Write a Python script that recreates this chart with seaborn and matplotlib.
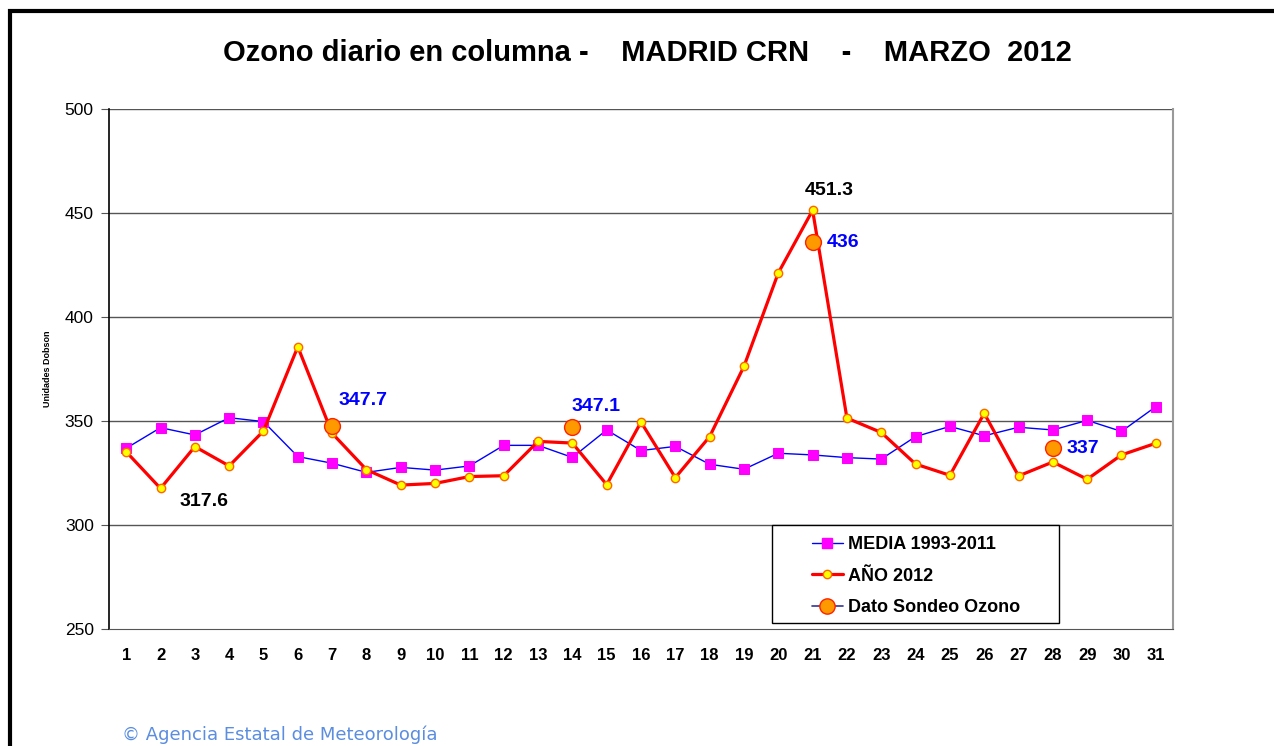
"""Ozono diario en columna - Madrid, marzo 2012."""

import matplotlib

matplotlib.use("Agg")
import matplotlib.pyplot as plt
from matplotlib.lines import Line2D
from matplotlib.patches import Rectangle
import pandas as pd
import seaborn as sns

days = list(range(1, 32))
media_1993_2011 = [336.9, 346.8, 343.3, 351.6, 349.7, 332.9, 329.7, 325.3, 327.7, 326.4,
                   328.4, 338.3, 338.3, 332.5, 345.7, 335.8, 337.8, 329.2, 326.8, 334.5,
                   333.7, 332.4, 331.7, 342.5, 347.4, 342.9, 347.0, 345.7, 350.3, 345.0,
                   356.9]
ano_2012 = [335.2, 317.6, 337.7, 328.4, 345.2, 385.7, 344.1, 326.6, 319.2, 320.0,
            323.3, 323.7, 340.2, 339.4, 319.4, 349.5, 322.8, 342.5, 376.3, 421.2,
            451.3, 351.4, 344.5, 329.3, 323.9, 353.7, 323.6, 330.3, 322.0, 333.7,
            339.3]
sondeo_days = [7, 14, 21, 28]
sondeo_values = [347.7, 347.1, 436.0, 337.0]
sondeo_labels = ["347.7", "347.1", "436", "337"]
y_ticks = [250, 300, 350, 400, 450, 500]

df = pd.DataFrame({"dia": days, "media": media_1993_2011, "ano": ano_2012})
df_sondeo = pd.DataFrame({"dia": sondeo_days, "valor": sondeo_values})

sns.set_style("white")
plt.rcParams["font.family"] = ["Liberation Sans", "DejaVu Sans"]
plt.rcParams["text.color"] = "black"
plt.rcParams["axes.labelcolor"] = "black"
plt.rcParams["xtick.color"] = "black"
plt.rcParams["ytick.color"] = "black"

fig = plt.figure(figsize=(12.74, 7.46), dpi=100)
ax = fig.add_axes([0.0856, 0.1568, 0.8351, 0.6971])

# outer frame of the picture (top and left only visible)
fig.patches.append(Rectangle((10 / 1274, -0.05), 1.1, 1 - 11.5 / 746 + 0.05,
                             transform=fig.transFigure, fill=False,
                             edgecolor="black", linewidth=3, zorder=0))

for v in y_ticks[1:]:
    ax.axhline(v, color="#555555", linewidth=1, zorder=0)

sns.lineplot(data=df, x="dia", y="media", ax=ax, color="#0000FF", linewidth=1,
             marker="s", markersize=7, markerfacecolor="#FF00FF",
             markeredgecolor="#FF00FF", zorder=3)
sns.lineplot(data=df, x="dia", y="ano", ax=ax, color="#FF0000", linewidth=2.3,
             marker="o", markersize=6, markerfacecolor="#FFFF00",
             markeredgecolor="#FF6600", markeredgewidth=1, zorder=4)
sns.scatterplot(data=df_sondeo, x="dia", y="valor", ax=ax, s=130,
                color="#FF9900", edgecolor="#FF2200", linewidth=1, zorder=5)

# value labels
min_i = ano_2012.index(min(ano_2012))
max_i = ano_2012.index(max(ano_2012))
bold = dict(fontsize=14, fontweight="bold")
ax.annotate(f"{ano_2012[min_i]:.1f}", (days[min_i], ano_2012[min_i]),
            xytext=(43, -13), textcoords="offset pixels", ha="center", va="center",
            color="black", **bold)
ax.annotate(f"{ano_2012[max_i]:.1f}", (days[max_i], ano_2012[max_i]),
            xytext=(17, 20), textcoords="offset pixels", ha="center", va="center",
            color="black", **bold)
sondeo_offsets = [(31, 25), (24, 21), (14, 0), (14, 0)]
sondeo_ha = ["center", "center", "left", "left"]
for d, v, lab, off, ha in zip(sondeo_days, sondeo_values, sondeo_labels,
                              sondeo_offsets, sondeo_ha):
    ax.annotate(lab, (d, v), xytext=off, textcoords="offset pixels",
                ha=ha, va="center", color="#0000FF", **bold)

ax.set_xlim(0.5, 31.5)
ax.set_ylim(250, 500)
ax.set_xticks(days)
ax.set_xticklabels([str(d) for d in days], fontsize=12, fontweight="bold")
ax.set_xticks([d - 0.5 for d in days] + [31.5], minor=True)
ax.tick_params(axis="x", which="major", length=0, pad=14)
ax.tick_params(axis="x", which="minor", length=5, direction="out", color="#555555")
ax.set_yticks(y_ticks)
ax.set_yticklabels([str(v) for v in y_ticks], fontsize=12.5)
ax.tick_params(axis="y", length=6, direction="out", color="#555555", left=True, pad=5)
ax.set_xlabel("")
ax.set_ylabel("Unidades Dobson", fontsize=6.5, fontweight="bold", labelpad=9)

ax.spines["left"].set_color("black")
ax.spines["left"].set_linewidth(1.2)
ax.spines["bottom"].set_color("#555555")
ax.spines["right"].set_color("#999999")
ax.spines["right"].set_linewidth(1.5)
ax.spines["top"].set_visible(False)

# legend frame drawn separately so the entries sit inset like the original
x0, x1, y0, y1 = 109, 1173, 629, 109
to_ax_x = lambda px: (px - x0) / (x1 - x0)
to_ax_y = lambda py: (y0 - py) / (y0 - y1)
ax.add_patch(Rectangle((to_ax_x(772), to_ax_y(623)), to_ax_x(1059) - to_ax_x(772),
                       to_ax_y(525) - to_ax_y(623), transform=ax.transAxes,
                       facecolor="white", edgecolor="black", linewidth=1, zorder=6))

handles = [
    Line2D([], [], color="#0000FF", linewidth=1, marker="s", markersize=7,
           markerfacecolor="#FF00FF", markeredgecolor="#FF00FF"),
    Line2D([], [], color="#FF0000", linewidth=2.3, marker="o", markersize=6,
           markerfacecolor="#FFFF00", markeredgecolor="#FF6600"),
    Line2D([], [], color="#333399", linewidth=1.2, marker="o", markersize=11,
           markerfacecolor="#FF9900", markeredgecolor="#FF2200"),
]
leg = ax.legend(handles, ["MEDIA 1993-2011", "AÑO 2012", "Dato Sondeo Ozono"],
                loc="center left", bbox_to_anchor=(to_ax_x(812), to_ax_y(576)),
                frameon=False, prop=dict(size=13, weight="bold"),
                handlelength=1.7, handletextpad=0.3, labelspacing=0.8,
                borderpad=0, borderaxespad=0)
leg.set_zorder(7)

fig.text(647 / 1274, 1 - 53 / 746,
         "Ozono diario en columna -    MADRID CRN    -    MARZO  2012",
         ha="center", va="center", fontsize=21, fontweight="bold")
fig.text(122 / 1274, 1 - 735 / 746, "© Agencia Estatal de Meteorología",
         ha="left", va="center", fontsize=13, color="#5B8DE0",
         family=["DejaVu Sans"])

fig.savefig("out.png", dpi=100)
plt.close(fig)
